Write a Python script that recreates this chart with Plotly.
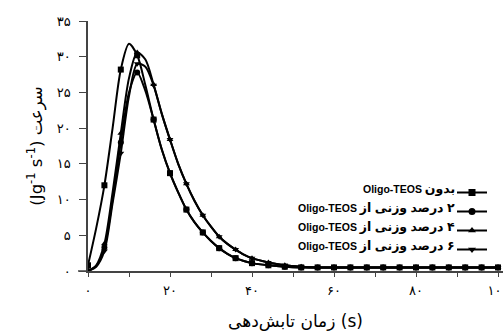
import plotly.graph_objects as go

# time (s)
t = [0, 2, 4, 6, 8, 10, 12, 14, 16, 18, 20, 22, 24, 26, 28, 30, 32, 34, 36, 38, 40,
     44, 48, 52, 56, 60, 64, 68, 72, 76, 80, 84, 88, 92, 96, 100]

# heat flow (J g-1 s-1)
s_none = [0.8, 6.0, 12.0, 20.0, 28.2, 31.8, 30.2, 26.0, 21.2, 17.0, 13.7, 11.0, 8.6, 6.8, 5.4, 4.2, 3.2, 2.4, 1.8, 1.4, 1.1,
          0.8, 0.6, 0.5, 0.5, 0.5, 0.5, 0.5, 0.5, 0.5, 0.5, 0.5, 0.5, 0.5, 0.5, 0.5]
s_2 = [0.0, 0.7, 3.3, 10.0, 18.0, 25.0, 27.8, 25.2, 21.2, 17.0, 13.7, 11.0, 8.6, 6.8, 5.4, 4.2, 3.2, 2.4, 1.8, 1.4, 1.1,
       0.8, 0.6, 0.5, 0.5, 0.5, 0.5, 0.5, 0.5, 0.5, 0.5, 0.5, 0.5, 0.5, 0.5, 0.5]
s_4 = [0.0, 0.8, 3.8, 11.0, 19.3, 27.0, 30.6, 29.6, 26.1, 22.0, 18.4, 15.0, 12.2, 9.8, 7.8, 6.2, 4.8, 3.8, 3.0, 2.3, 1.8,
       1.2, 0.8, 0.6, 0.5, 0.5, 0.5, 0.5, 0.5, 0.5, 0.5, 0.5, 0.5, 0.5, 0.5, 0.5]
s_6 = [0.0, 0.6, 2.8, 9.5, 16.5, 24.5, 29.0, 28.6, 26.0, 22.0, 18.4, 15.0, 12.2, 9.8, 7.8, 6.2, 4.8, 3.8, 3.0, 2.3, 1.8,
       1.2, 0.8, 0.6, 0.5, 0.5, 0.5, 0.5, 0.5, 0.5, 0.5, 0.5, 0.5, 0.5, 0.5, 0.5]

label_latin = "Oligo-TEOS"
label_fa = ["بدون", "\u200f۲ درصد وزنی از", "\u200f۴ درصد وزنی از", "\u200f۶ درصد وزنی از"]
series_values = [s_none, s_2, s_4, s_6]
symbols = ["square", "circle", "triangle-up", "triangle-down"]

marker_step = 4
y_tickvals = [0, 5, 10, 15, 20, 25, 30, 35]
y_ticktext = ["۰", "۵", "۱۰", "۱۵", "۲۰", "۲۵", "۳۰", "۳۵"]
x_tickvals = [0, 20, 40, 60, 80, 100]
x_ticktext = ["۰", "۲۰", "۴۰", "۶۰", "۸۰", "۱۰۰"]
x_title = "\u200eزمان تابش‌دهی (s)"
y_title = "(Jg<sup>-1</sup> s<sup>-1</sup>) سرعت"

fig = go.Figure()
for fa, vals, sym in zip(label_fa, series_values, symbols):
    fig.add_trace(go.Scatter(x=t, y=vals, mode="lines", line=dict(color="black", width=2, shape="spline", smoothing=0.8),
                             showlegend=False, hoverinfo="skip"))
    mx = [a for a in t if a % marker_step == 0]
    my = [v for a, v in zip(t, vals) if a % marker_step == 0]
    fig.add_trace(go.Scatter(x=mx, y=my, mode="markers", marker=dict(symbol=sym, size=6, color="black"),
                             showlegend=False))
    fig.add_trace(go.Scatter(x=[None], y=[None], mode="lines+markers", name=" ",
                             line=dict(color="black", width=2),
                             marker=dict(symbol=sym, size=7, color="black")))

W, H = 503, 335
ml, mr, mt, mb = 88, 0, 21, 64
pw, ph = W - ml - mr, H - mt - mb

def px_x(p):
    return (p - ml) / pw

def px_y(p):
    return (H - mb - p) / ph

# legend texts
row_y = [189, 208, 227, 246]
annotations = []
for fa, ry in zip(label_fa, row_y):
    annotations.append(dict(xref="paper", yref="paper", x=px_x(457), y=px_y(ry), xanchor="right", yanchor="middle",
                            text="<b>" + label_latin + " <span style='font-size:12.5px'>" + fa + "</span></b>",
                            showarrow=False,
                            font=dict(family="Liberation Sans, DejaVu Sans", size=10.5, color="black")))

fig.update_layout(
    width=W, height=H,
    margin=dict(l=ml, r=mr, t=mt, b=mb, autoexpand=False),
    paper_bgcolor="white", plot_bgcolor="white",
    font=dict(family="DejaVu Sans", color="black"),
    showlegend=True,
    legend=dict(x=px_x(452), y=px_y(178), xanchor="left", yanchor="top", bgcolor="rgba(0,0,0,0)",
                font=dict(size=10), tracegroupgap=0, itemwidth=30),
    annotations=annotations,
    shapes=[dict(type="line", xref="paper", yref="paper", x0=px_x(78), x1=0, y0=0, y1=0,
                 line=dict(color="#444", width=1.5))],
)
fig.update_xaxes(range=[0, 100 * pw / 410], showline=True, linecolor="#444", linewidth=1.5, showgrid=False,
                 zeroline=False, ticks="outside", ticklen=4, tickcolor="#444", tickvals=x_tickvals,
                 ticktext=x_ticktext, tickfont=dict(size=13, family="DejaVu Sans"), ticklabelstandoff=3,
                 ticklabeloverflow="allow",
                 minor=dict(dtick=10, ticks="outside", ticklen=4, tickcolor="#444", showgrid=False),
                 title=dict(text=x_title, font=dict(size=17, family="DejaVu Sans"), standoff=18))
fig.update_yaxes(range=[0, 35], showline=True, linecolor="#444", linewidth=1.5, showgrid=False, zeroline=False,
                 ticks="outside", ticklen=7, tickcolor="#444", tickvals=y_tickvals, ticktext=y_ticktext,
                 tickfont=dict(size=13, family="DejaVu Sans"), ticklabelstandoff=6,
                 title=dict(text=y_title, font=dict(size=16.5, family="DejaVu Sans"), standoff=10))

fig.write_html("out.html")
